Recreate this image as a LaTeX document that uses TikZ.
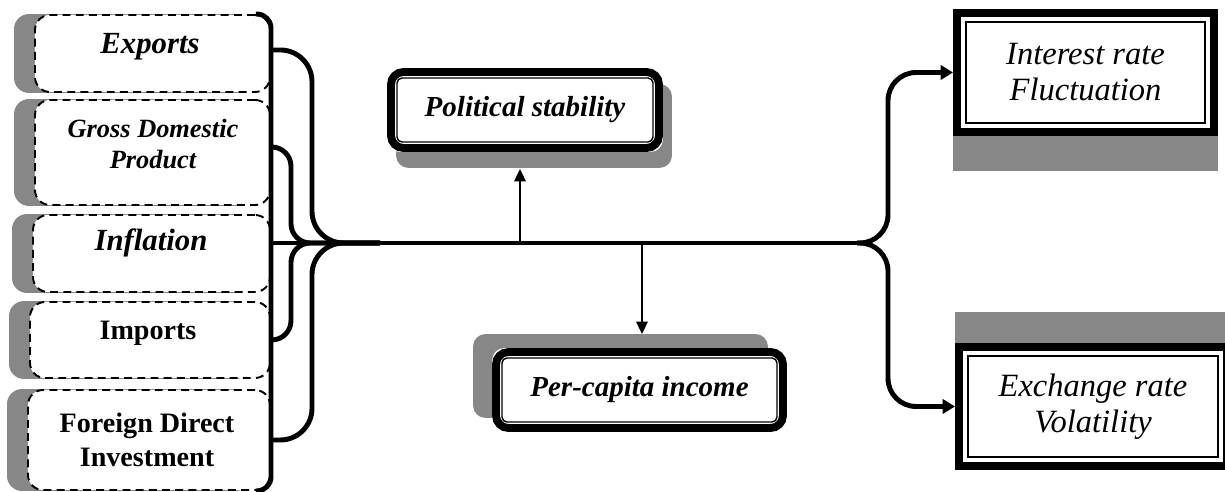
\documentclass[tikz,border=0pt]{standalone}
\usepackage{fontspec}
\setmainfont{Liberation Serif}
\usepackage{tikz}
\usetikzlibrary{arrows.meta,positioning,fit,backgrounds,calc}
\definecolor{shadowgray}{HTML}{878787}
\tikzset{
  factor/.style={draw, fill=white, line width=1.1pt, dash pattern=on 4.5pt off 3pt,
    rounded corners=3mm, inner sep=0pt},
  factortext/.style={align=center, font=\fontsize{16}{19}\selectfont\bfseries},
  factorital/.style={align=center, font=\fontsize{17.5}{19}\selectfont\bfseries\itshape},
  panel/.style={draw, fill=white, line width=0.8pt, align=center, inner sep=0pt},
  thickframe/.style={draw, line width=4.5pt},
  trunk/.style={line width=2.8pt, draw=black},
  outcome/.style={-{Triangle[length=7pt,width=8pt]}, line width=2.8pt},
  linkarrow/.style={-{Triangle[length=7pt,width=6.5pt]}, line width=0.9pt},
  shadowfill/.style={fill=shadowgray},
}

\begin{document}
\begin{tikzpicture}[x=0.2mm, y=-0.2mm]
\useasboundingbox (0,0) rectangle (1225,492);

% ---------- left: determinants ----------
\node[factor, minimum width=47mm, minimum height=15.4mm] (exp) at (152.5,53.5) {};
\node[factor, minimum width=47mm, minimum height=21mm] (gdp) at (152.5,152.5) {};
\node[factor, minimum width=47.4mm, minimum height=15.4mm] (inf) at (151.5,253.5) {};
\node[factor, minimum width=48mm, minimum height=15.2mm] (imp) at (150,340) {};
\node[factor, minimum width=48.4mm, minimum height=20mm] (fdi) at (149,440) {};

\node[factorital] (expT) at (150,47) {Exports};
\node[factorital, font=\fontsize{15}{18}\selectfont\bfseries\itshape] (gdpT) at (153,144) {Gross Domestic\\Product};
\node[factorital] (infT) at (151,243) {Inflation};
\node[factortext] (impT) at (148,333) {Imports};
\node[factortext] (fdiT) at (147,440) {Foreign Direct\\Investment};

% ---------- middle: side effects ----------
\node[panel, minimum width=51.2mm, minimum height=12.8mm, rounded corners=1mm,
      font=\fontsize{16.5}{19}\selectfont\bfseries\itshape] (pol) at (525,110) {Political stability};
\node[thickframe, rounded corners=2.5mm, inner sep=1.06mm, fit=(pol)] (polF) {};
\node[panel, minimum width=55mm, minimum height=12.8mm, rounded corners=1mm,
      font=\fontsize{16.5}{19}\selectfont\bfseries\itshape] (pc) at (639.5,390) {Per-capita income};
\node[thickframe, rounded corners=2.5mm, inner sep=1.06mm, fit=(pc)] (pcF) {};

% ---------- right: outcomes ----------
\node[panel, minimum width=47.8mm, minimum height=20.2mm,
      font=\fontsize{18.5}{20.5}\selectfont\itshape] (int) at (1085.5,72.5) {Interest rate\\Fluctuation};
\node[thickframe, inner sep=1.66mm, fit=(int)] (intF) {};
\node[panel, minimum width=50mm, minimum height=20.2mm,
      font=\fontsize{18.5}{20.5}\selectfont\itshape] (exch) at (1093,406.5) {Exchange rate\\Volatility};
\node[thickframe, inner sep=1.66mm, fit=(exch)] (exchF) {};

% shadows
\begin{scope}[on background layer]
\foreach \b in {exp,gdp,inf,imp,fdi}{
  \fill[shadowfill, rounded corners=3mm] ([shift={(-20,0)}]\b.north west) rectangle ([shift={(-20,0)}]\b.south east);
}
\fill[shadowfill, rounded corners=2.5mm] ([shift={(9,16)}]polF.north west) rectangle ([shift={(9,16)}]polF.south east);
\fill[shadowfill, rounded corners=2.5mm] ([shift={(-19,-14)}]pcF.north west) rectangle ([shift={(-19,-14)}]pcF.south east);
\fill[shadowfill] ([shift={(0,35)}]intF.north west) rectangle ([shift={(0,35)}]intF.south east);
\fill[shadowfill] ([shift={(0,-31)}]exchF.north west) rectangle ([shift={(0,-31)}]exchF.south east);
% white ground inside the frames
\fill[white, rounded corners=2.5mm] (polF.north west) rectangle (polF.south east);
\fill[white, rounded corners=2.5mm] (pcF.north west) rectangle (pcF.south east);
\fill[white] (intF.north west) rectangle (intF.south east);
\fill[white] (exchF.north west) rectangle (exchF.south east);
\end{scope}

% ---------- connectors ----------
\coordinate (hub) at (271,243);
\coordinate (railA) at (291,243);
\coordinate (railB) at (312,243);
\coordinate (merge) at (380,243);
\coordinate (split) at (857,243);
\coordinate (riser) at (888,243);
\coordinate (upfoot) at (520,243);
\coordinate (downfoot) at (642,243);

\draw[trunk, rounded corners=8pt] ([xshift=-3mm]exp.north east) -| (hub) |- ([xshift=-3mm]fdi.south east);
\draw[trunk, rounded corners=18pt] ([yshift=0.7mm]exp.east) -| (railB) -- (merge);
\draw[trunk, rounded corners=11pt] ([yshift=1.1mm]gdp.east) -| (railA) -- (merge);
\draw[trunk, rounded corners=11pt] (imp.east) -| (railA) -- (merge);
\draw[trunk, rounded corners=18pt] (fdi.east) -| (railB) -- (merge);
\draw[trunk] (hub) -- (split);

\draw[outcome, rounded corners=16pt] (split) -- (riser) |- (intF.west);
\draw[outcome, rounded corners=16pt] (split) -- (riser) |- (exchF.west);

\draw[linkarrow, shorten >=3.4mm] (upfoot) -- (upfoot |- polF.south);
\draw[linkarrow, shorten >=2.8mm] (downfoot) -- (downfoot |- pcF.north);
\end{tikzpicture}
\end{document}
